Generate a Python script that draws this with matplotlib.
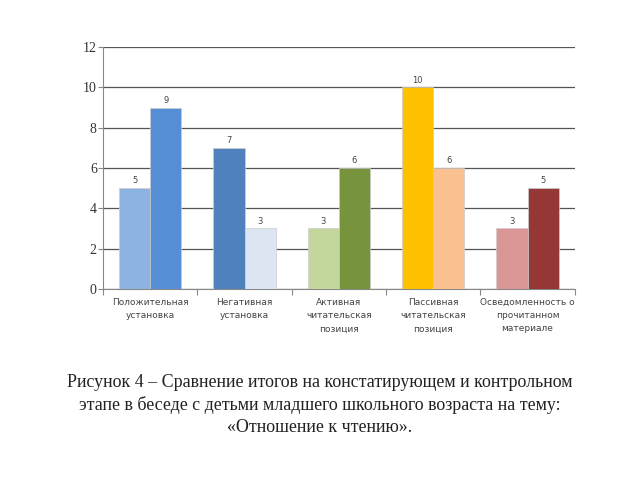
import matplotlib.pyplot as plt
import numpy as np

categories = ['Положительная\nустановка', 'Негативная\nустановка', 'Активная\nчитательская\nпозиция',
              'Пассивная\nчитательская\nпозиция', 'Осведомленность о\nпрочитанном\nматериале']
stage1 = [5, 7, 3, 10, 3]   # констатирующий этап
stage2 = [9, 3, 6, 6, 5]    # контрольный этап
colors1 = ['#8DB3E2', '#4F81BD', '#C3D69B', '#FFC000', '#D99694']
colors2 = ['#558ED5', '#DCE6F2', '#77933C', '#FAC090', '#953735']
yticks = [0, 2, 4, 6, 8, 10, 12]
caption = ('Рисунок 4 – Сравнение итогов на констатирующем и контрольном\n'
           'этапе в беседе с детьми младшего школьного возраста на тему:\n'
           '«Отношение к чтению».')

fig = plt.figure(figsize=(6.4, 4.8), dpi=100)
ax = fig.add_axes([0.161, 0.398, 0.737, 0.504])

x = np.arange(len(categories))
w = 0.33
b1 = ax.bar(x - w / 2, stage1, w, color=colors1, edgecolor='#cccccc', linewidth=0.5, zorder=3)
b2 = ax.bar(x + w / 2, stage2, w, color=colors2, edgecolor='#cccccc', linewidth=0.5, zorder=3)
for bars in (b1, b2):
    ax.bar_label(bars, padding=2, fontsize=6, color='#444444')

ax.set_xlim(-0.5, len(categories) - 0.5)
ax.set_ylim(0, 12)
ax.set_yticks(yticks)
ax.set_yticklabels([str(t) for t in yticks], family='Liberation Serif', fontsize=10, color='#333333')
ax.yaxis.grid(True, color='#555555', linewidth=0.9, zorder=0)
ax.tick_params(axis='y', length=3.5, color='#888888', pad=1)

# category ticks between groups, labels centred
ax.set_xticks(np.arange(len(categories) + 1) - 0.5)
ax.set_xticklabels([])
ax.tick_params(axis='x', length=4, color='#888888')
for i, c in enumerate(categories):
    ax.text(i, -0.45, c, ha='center', va='top', fontsize=6.5, color='#444444',
            linespacing=1.6, transform=ax.transData)

for s in ['top', 'right']:
    ax.spines[s].set_visible(False)
for s in ['left', 'bottom']:
    ax.spines[s].set_color('#888888')

fig.text(0.5, 0.221, caption, ha='center', va='top', family='Liberation Serif',
         fontsize=12.9, color='#222222', linespacing=1.38)

fig.savefig('out.png', dpi=100)
